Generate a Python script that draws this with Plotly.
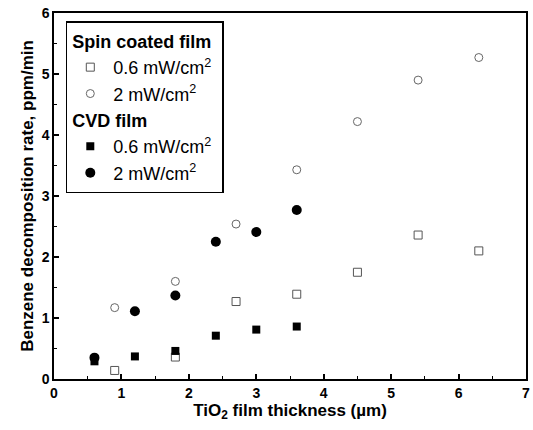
import plotly.graph_objects as go

# Film thickness (µm) and benzene decomposition rate (ppm/min)
spin_x = [0.9, 1.8, 2.7, 3.6, 4.5, 5.4, 6.3]
spin_low = [0.14, 0.36, 1.27, 1.39, 1.75, 2.36, 2.1]
spin_high = [1.17, 1.6, 2.54, 3.43, 4.22, 4.9, 5.27]

cvd_x = [0.6, 1.2, 1.8, 2.4, 3.0, 3.6]
cvd_low = [0.29, 0.37, 0.46, 0.71, 0.81, 0.86]
cvd_high = [0.35, 1.11, 1.37, 2.25, 2.41, 2.77]

x_ticks = [0, 1, 2, 3, 4, 5, 6, 7]
y_ticks = [0, 1, 2, 3, 4, 5, 6]

FONT = "Liberation Sans, Arial, sans-serif"

fig = go.Figure()

group_title_font = dict(family=FONT, size=18, weight="bold", color="black")

fig.add_trace(go.Scatter(
    x=spin_x, y=spin_low, mode="markers", name="0.6 mW/cm<sup>2</sup>",
    legendgroup="spin",
    legendgrouptitle=dict(text="Spin coated film", font=group_title_font),
    marker=dict(symbol="square-open", size=8, color="#555555", line=dict(width=1)),
))
fig.add_trace(go.Scatter(
    x=spin_x, y=spin_high, mode="markers", name="2 mW/cm<sup>2</sup>",
    legendgroup="spin",
    marker=dict(symbol="circle-open", size=8, color="#666666", line=dict(width=1)),
))
fig.add_trace(go.Scatter(
    x=cvd_x, y=cvd_low, mode="markers", name="0.6 mW/cm<sup>2</sup>",
    legendgroup="cvd", legendgrouptitle=dict(text="CVD film", font=group_title_font),
    marker=dict(symbol="square", size=8, color="black"),
))
fig.add_trace(go.Scatter(
    x=cvd_x, y=cvd_high, mode="markers", name="2 mW/cm<sup>2</sup>",
    legendgroup="cvd",
    marker=dict(symbol="circle", size=10, color="black"),
))

axis_common = dict(
    showline=True, linecolor="black", linewidth=1.5, mirror=True,
    ticks="inside", ticklen=5, tickwidth=1.5, tickcolor="black",
    showgrid=False, zeroline=False, ticklabeloverflow="allow",
    tickfont=dict(family=FONT, size=14, color="black", weight="bold"),
)

fig.update_xaxes(
    range=[0, 7], tickvals=x_ticks,
    minor=dict(dtick=0.5, ticks="inside", ticklen=3, tickcolor="black", tickwidth=1),
    title=dict(text="TiO<sub>2</sub> film thickness (µm)", standoff=3,
               font=dict(family=FONT, size=17, color="black", weight="bold")),
    **axis_common,
)
fig.update_yaxes(
    range=[0, 6], tickvals=y_ticks,
    minor=dict(dtick=0.5, ticks="inside", ticklen=3, tickcolor="black", tickwidth=1),
    title=dict(text="Benzene decomposition rate, ppm/min", standoff=4,
               font=dict(family=FONT, size=17, color="black", weight="bold")),
    **axis_common,
)

fig.update_layout(
    width=533, height=430,
    margin=dict(l=54, r=3, t=13, b=51),
    paper_bgcolor="white", plot_bgcolor="white",
    font=dict(family=FONT, color="black"),
    showlegend=True,
    legend=dict(
        x=0.025, y=0.978, xanchor="left", yanchor="top",
        bgcolor="white", bordercolor="black", borderwidth=1.5,
        font=dict(family=FONT, size=18, color="black"),
        tracegroupgap=0, groupclick="toggleitem", itemwidth=36,
        entrywidth=130, entrywidthmode="pixels",
    ),
)

fig.write_html("out.html")
